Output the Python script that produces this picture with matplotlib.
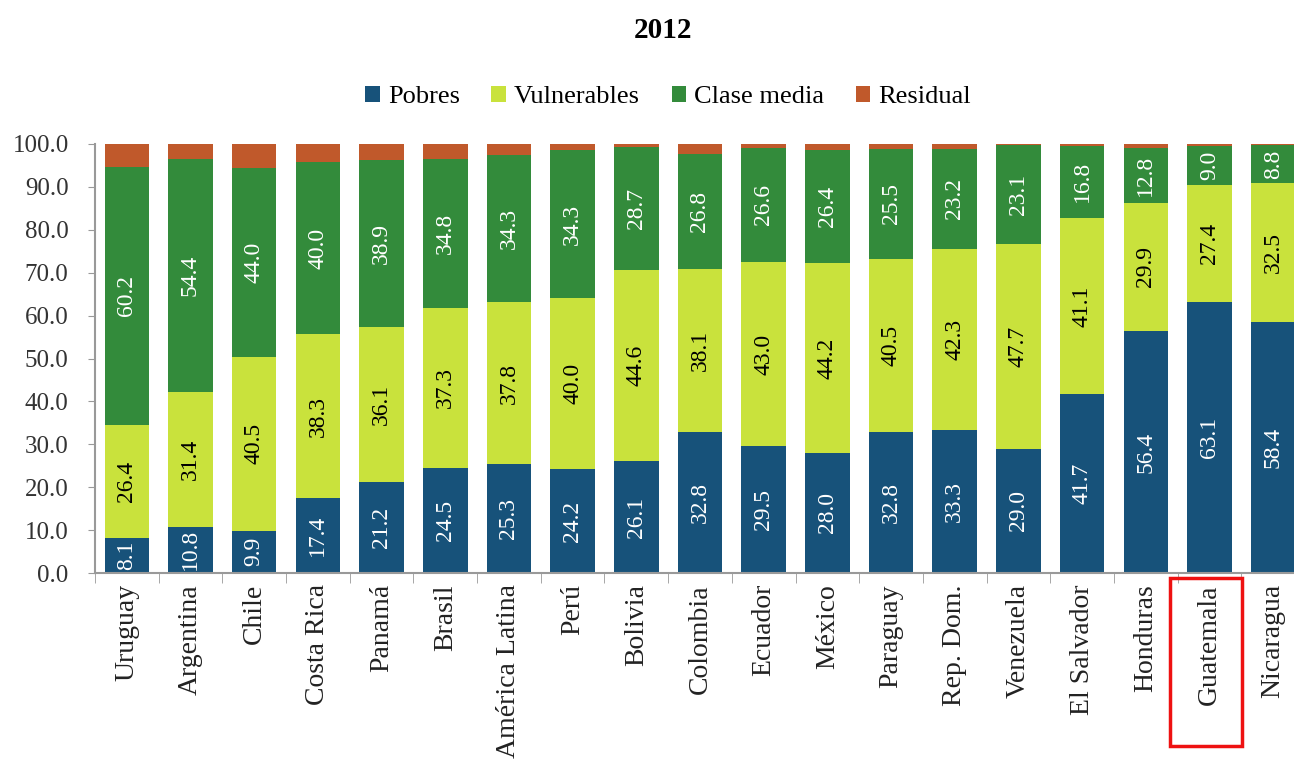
import matplotlib
matplotlib.use("Agg")
import matplotlib.pyplot as plt
from matplotlib.patches import Rectangle
import numpy as np

plt.rcParams['font.family'] = ['Liberation Serif', 'DejaVu Serif']

paises = ["Uruguay", "Argentina", "Chile", "Costa Rica", "Panamá", "Brasil",
          "América Latina", "Perú", "Bolivia", "Colombia", "Ecuador", "México",
          "Paraguay", "Rep. Dom.", "Venezuela", "El Salvador", "Honduras",
          "Guatemala", "Nicaragua"]
pobres = [8.1, 10.8, 9.9, 17.4, 21.2, 24.5, 25.3, 24.2, 26.1, 32.8, 29.5,
          28.0, 32.8, 33.3, 29.0, 41.7, 56.4, 63.1, 58.4]
vulnerables = [26.4, 31.4, 40.5, 38.3, 36.1, 37.3, 37.8, 40.0, 44.6, 38.1,
               43.0, 44.2, 40.5, 42.3, 47.7, 41.1, 29.9, 27.4, 32.5]
clase_media = [60.2, 54.4, 44.0, 40.0, 38.9, 34.8, 34.3, 34.3, 28.7, 26.8,
               26.6, 26.4, 25.5, 23.2, 23.1, 16.8, 12.8, 9.0, 8.8]
residual = [5.3, 3.4, 5.6, 4.3, 3.8, 3.4, 2.6, 1.5, 0.6, 2.3, 0.9, 1.4,
            1.2, 1.2, 0.2, 0.4, 0.9, 0.5, 0.3]

series = [("Pobres", pobres, "#17527a", "white"),
          ("Vulnerables", vulnerables, "#c9e23c", "black"),
          ("Clase media", clase_media, "#338b3b", "white"),
          ("Residual", residual, "#c0592b", None)]

W, H = 1294, 762
fig = plt.figure(figsize=(W / 100, H / 100), dpi=100)
ax = fig.add_axes([95 / W, (H - 573) / H, 1210 / W, 429 / H])

x = np.arange(len(paises))
bottom = np.zeros(len(paises))
for name, vals, color, tcolor in series:
    vals = np.array(vals)
    ax.bar(x, vals, 0.7, bottom=bottom, color=color, label=name, zorder=2)
    if tcolor is not None:
        for xi, b, v in zip(x, bottom, vals):
            ax.text(xi, b + v / 2, f"{v:.1f}", rotation=90, ha="center",
                    va="center", color=tcolor, fontsize=17, zorder=3)
    bottom += vals

ax.set_xlim(-0.5, len(paises) - 0.5)
ax.set_ylim(0, 100)
ax.set_yticks(np.arange(0, 101, 10))
ax.set_yticklabels([f"{v:.1f}" for v in np.arange(0, 101, 10)], fontsize=18,
                   color="#333333")
ax.set_xticks(x)
ax.set_xticklabels(paises, rotation=90, fontsize=20, color="#222222")
ax.set_xticks(np.arange(-0.5, len(paises), 1), minor=True)
ax.tick_params(axis="x", which="major", length=0, pad=8)
ax.tick_params(axis="x", which="minor", length=7, color="#999999")
ax.tick_params(axis="y", length=5, color="#999999", pad=14)
for s in ["top", "right"]:
    ax.spines[s].set_visible(False)
for s in ["left", "bottom"]:
    ax.spines[s].set_color("#999999")
    ax.spines[s].set_linewidth(1.5)

fig.text(663 / W, 1 - 30 / H, "2012", ha="center", va="center",
         fontsize=21, fontweight="bold")
fig.legend(loc="center", bbox_to_anchor=(668 / W, 1 - 97 / H), ncol=4,
           frameon=False, fontsize=19, handlelength=0.55, handleheight=0.55,
           handletextpad=0.3, columnspacing=1.2)

# recuadro rojo alrededor de Guatemala
fig.patches.append(Rectangle((1170 / W, 1 - 746 / H), 72 / W, 168 / H,
                             transform=fig.transFigure, fill=False,
                             edgecolor="#ee1111", linewidth=2.5))

fig.savefig("out.png", dpi=100)
